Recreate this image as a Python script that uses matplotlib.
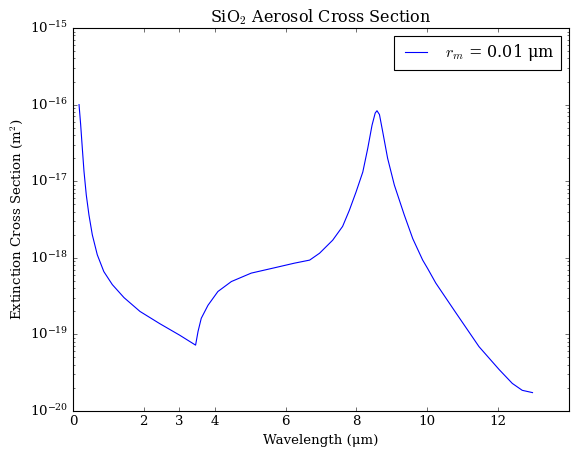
import matplotlib
matplotlib.use("Agg")
import matplotlib.pyplot as plt
import numpy as np

plt.style.use("classic")
plt.rcParams["font.family"] = "serif"
plt.rcParams["font.serif"] = ["DejaVu Serif"]

# wavelength (um) and log10 extinction cross section (m^2)
wavelength = [0.17, 0.216, 0.263, 0.31, 0.375, 0.45, 0.545, 0.685, 0.87, 1.11,
              1.44, 1.89, 2.45, 3.01, 3.46, 3.53, 3.62, 3.81, 4.09,
              4.47, 5.03, 5.69, 6.25, 6.68, 6.96, 7.33, 7.61, 7.80, 7.99,
              8.18, 8.32, 8.44, 8.53, 8.58, 8.65, 8.74, 8.88, 9.07, 9.35,
              9.59, 9.87, 10.01, 10.24, 10.81, 11.46, 12.03, 12.40, 12.68, 12.97]
log_sigma = [-16.0, -16.26, -16.57, -16.87, -17.18, -17.44, -17.70, -17.96, -18.18, -18.35,
             -18.52, -18.70, -18.86, -19.01, -19.14, -18.96, -18.79, -18.62, -18.44,
             -18.31, -18.20, -18.13, -18.07, -18.03, -17.94, -17.77, -17.59, -17.38, -17.14,
             -16.88, -16.57, -16.27, -16.11, -16.08, -16.13, -16.35, -16.70, -17.05, -17.44,
             -17.75, -18.03, -18.14, -18.33, -18.72, -19.16, -19.46, -19.64, -19.73, -19.76]

xticks = [0, 2, 3, 4, 6, 8, 10, 12]

fig = plt.figure(figsize=(7.2, 5.7), dpi=80)
ax = fig.add_subplot(111)
fig.subplots_adjust(left=73 / 576, right=569 / 576, top=1 - 28 / 456, bottom=1 - 411 / 456)

ax.plot(wavelength, 10 ** np.array(log_sigma), "b-", label=r"$r_m$ = 0.01 μm")
ax.set_yscale("log")
ax.set_xlim(0, 14)
ax.set_ylim(1e-20, 1e-15)
ax.set_xticks(xticks)
ax.set_xlabel("Wavelength (μm)")
ax.set_ylabel(r"Extinction Cross Section (m$^2$)")
ax.set_title(r"SiO$_2$ Aerosol Cross Section")
ax.legend(loc="upper right")

fig.savefig("out.png", dpi=80)
